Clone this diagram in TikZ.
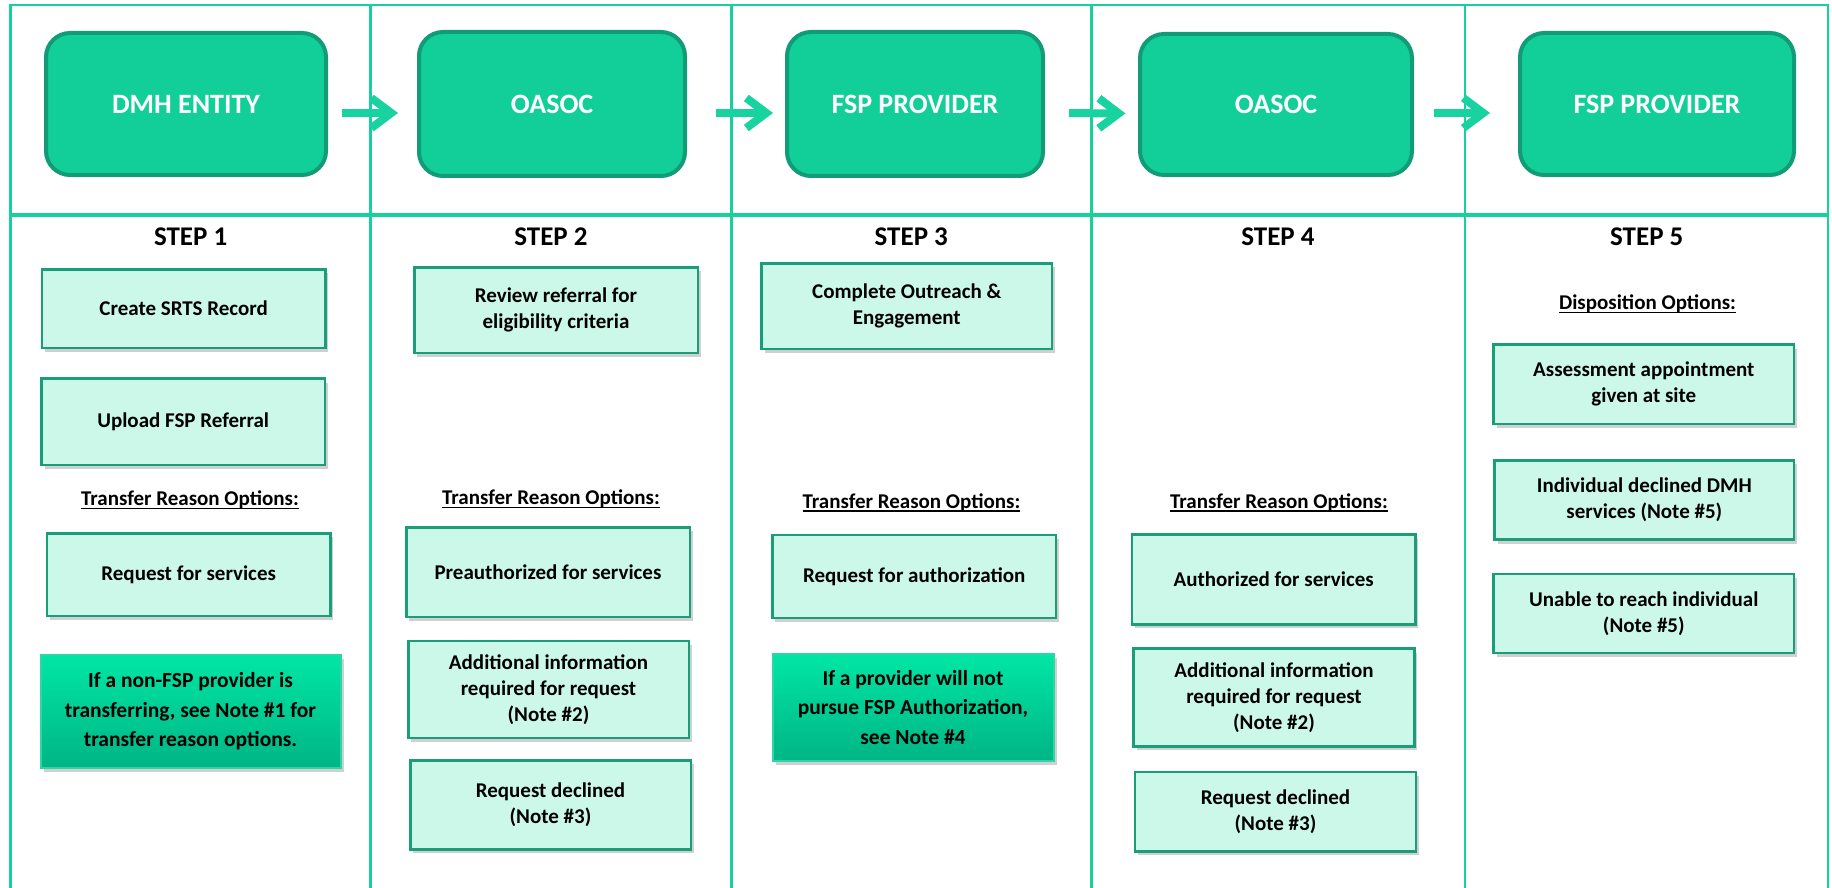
\documentclass[tikz,border=0pt]{standalone}
\usepackage{fontspec}
\setmainfont{Carlito}
\usetikzlibrary{arrows.meta,shadows}
\definecolor{gridc}{RGB}{22,208,158}
\definecolor{topfill}{RGB}{18,207,154}
\definecolor{topdraw}{RGB}{17,155,118}
\definecolor{arrc}{RGB}{24,210,160}
\definecolor{lfill}{RGB}{204,248,234}
\definecolor{ldraw}{RGB}{26,158,122}
\definecolor{ntop}{RGB}{0,230,165}
\definecolor{nbot}{RGB}{0,181,133}
\definecolor{ndraw}{RGB}{45,214,166}
\newsavebox\myulbox
\newcommand\myul[1]{\sbox\myulbox{#1}\rlap{\rule[-3.5pt]{\wd\myulbox}{1.6pt}}\usebox\myulbox}
\begin{document}
\begin{tikzpicture}[x=1pt,y=-1pt,
  font=\bfseries\fontsize{21}{26}\selectfont,
  gridline/.style={draw=gridc, line width=2.8pt},
  topbox/.style={rectangle, rounded corners=24pt, fill=topfill, draw=topdraw, line width=4pt,
    text=white, font=\bfseries\fontsize{28}{34}\selectfont, inner sep=0pt},
  flowarrow/.style={draw=arrc, line width=8pt, -{Straight Barb[length=20pt,width=30pt,line width=8pt]}},
  lbox/.style={rectangle, fill=lfill, draw=ldraw, line width=2.5pt, align=center, inner sep=0pt,
    drop shadow={shadow xshift=3pt, shadow yshift=-4pt, opacity=0.3, fill=black!60}},
  notebox/.style={rectangle, top color=ntop, bottom color=nbot, draw=ndraw, line width=2pt,
    align=center, inner sep=0pt, font=\bfseries\fontsize{21.5}{29.5}\selectfont,
    drop shadow={shadow xshift=3pt, shadow yshift=-4pt, opacity=0.3, fill=black!60}},
  steplabel/.style={font=\bfseries\fontsize{27}{32}\selectfont, inner sep=0pt},
  heading/.style={inner sep=0pt}
]
\useasboundingbox (0,0) rectangle (1832,888);
\fill[white] (0,0) rectangle (1832,888);

% grid
\draw[gridline] (10.5,5) -- (1828,5);
\draw[gridline, line width=4.5pt] (10.5,215) -- (1828,215);
\foreach \gx in {10.5,370.8,731.2,1091.6,1465,1828}{
  \draw[gridline] (\gx,3.6) -- (\gx,888);
}

% top boxes
\node[topbox, minimum width=280pt, minimum height=142pt] (t1) at (186,104) {DMH ENTITY};
\node[topbox, minimum width=266pt, minimum height=144pt] (t2) at (552,104) {OASOC};
\node[topbox, minimum width=256pt, minimum height=144pt] (t3) at (915,104) {FSP PROVIDER};
\node[topbox, minimum width=272pt, minimum height=141pt] (t4) at (1276,104.5) {OASOC};
\node[topbox, minimum width=274pt, minimum height=142pt] (t5) at (1657,104) {FSP PROVIDER};

% arrows
\draw[flowarrow, shorten <=14pt, shorten >=19pt] ([yshift=-9pt]t1.east) -- ([yshift=-9pt]t2.west);
\draw[flowarrow, shorten <=29pt, shorten >=12pt] ([yshift=-9pt]t2.east) -- ([yshift=-9pt]t3.west);
\draw[flowarrow, shorten <=24pt, shorten >=12.5pt] ([yshift=-9pt]t3.east) -- ([yshift=-9pt]t4.west);
\draw[flowarrow, shorten <=20pt, shorten >=28pt] ([yshift=-8.5pt]t4.east) -- ([yshift=-9pt]t5.west);

% step labels
\node[steplabel] (s1) at (190.6,237) {STEP 1};
\node[steplabel] (s2) at (551,237) {STEP 2};
\node[steplabel] (s3) at (911.3,237) {STEP 3};
\node[steplabel] (s4) at (1278,237) {STEP 4};
\node[steplabel] (s5) at (1646.8,237) {STEP 5};

% column 1
\node[lbox, minimum width=283.5pt, minimum height=78.8pt] (b11) at (183.7,308.7) {Create SRTS Record};
\node[lbox, minimum width=283.2pt, minimum height=86.5pt] (b12) at (183.2,421.8) {Upload FSP Referral};
\node[heading] (h1) at (190,500) {\myul{Transfer Reason Options:}};
\node[lbox, minimum width=283.5pt, minimum height=82.8pt] (b13) at (188.7,574.7) {Request for services};
\node[notebox, minimum width=300pt, minimum height=113pt] (n1) at (190.5,711.2) {If a non-FSP provider is\\transferring, see Note \#1 for\\transfer reason options.};

% column 2
\node[lbox, minimum width=283.5pt, minimum height=85.7pt] (b21) at (556,310.1) {Review referral for\\eligibility criteria};
\node[heading] (h2) at (551,499) {\myul{Transfer Reason Options:}};
\node[lbox, minimum width=283.5pt, minimum height=89.9pt] (b22) at (548,572.2) {Preauthorized for services};
\node[lbox, minimum width=280.5pt, minimum height=96.8pt] (b23) at (548.5,689.4) {Additional information\\required for request\\(Note \#2)};
\node[lbox, minimum width=280.5pt, minimum height=89.1pt] (b24) at (550.5,804.8) {Request declined\\(Note \#3)};

% column 3
\node[lbox, minimum width=290.5pt, minimum height=85.5pt] (b31) at (906.8,306) {Complete Outreach \&\\Engagement};
\node[heading] (h3) at (911.5,502.5) {\myul{Transfer Reason Options:}};
\node[lbox, minimum width=283.8pt, minimum height=83.2pt] (b32) at (914.2,576.5) {Request for authorization};
\node[notebox, minimum width=281pt, minimum height=106.7pt] (n3) at (913,707.3) {If a provider will not\\pursue FSP Authorization,\\see Note \#4};

% column 4
\node[heading] (h4) at (1279,502.5) {\myul{Transfer Reason Options:}};
\node[lbox, minimum width=283.5pt, minimum height=90.1pt] (b41) at (1273.7,579.3) {Authorized for services};
\node[lbox, minimum width=280.9pt, minimum height=97.6pt] (b42) at (1274,697.5) {Additional information\\required for request\\(Note \#2)};
\node[lbox, minimum width=281.1pt, minimum height=79.7pt] (b43) at (1275.5,811.6) {Request declined\\(Note \#3)};

% column 5
\node[heading] (h5) at (1647.5,304) {\myul{Disposition Options:}};
\node[lbox, minimum width=300.5pt, minimum height=79.2pt] (b51) at (1643.8,384.2) {Assessment appointment\\given at site};
\node[lbox, minimum width=299.5pt, minimum height=79.2pt] (b52) at (1644.3,499.9) {Individual declined DMH\\services (Note \#5)};
\node[lbox, minimum width=300.5pt, minimum height=79.1pt] (b53) at (1643.8,613.5) {Unable to reach individual\\(Note \#5)};
\end{tikzpicture}
\end{document}
